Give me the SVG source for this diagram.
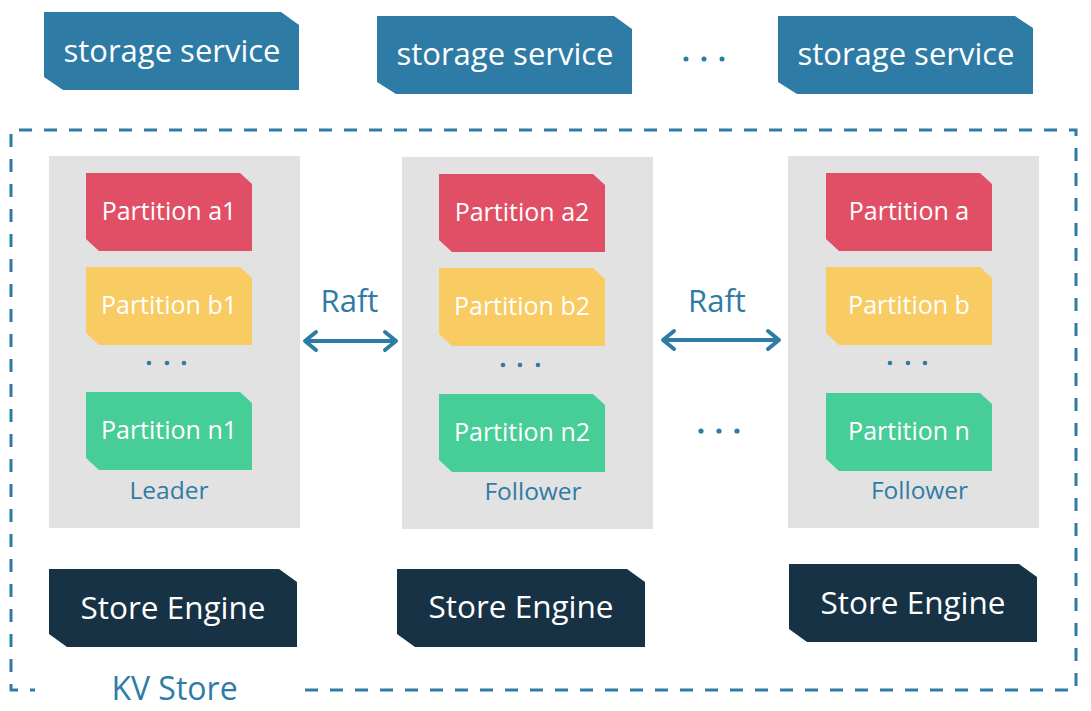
<svg xmlns="http://www.w3.org/2000/svg" width="1091" height="711" viewBox="0 0 1091 711">
<style>
text{font-family:"Open Sans","DejaVu Sans",sans-serif;text-anchor:middle}
.svc{fill:#2e7ba6}
.pa{fill:#e04f65}
.pb{fill:#f8cb63}
.pn{fill:#47cd98}
.se{fill:#163244}
.panel{fill:#e2e2e2}
.wt{fill:#ffffff}
.t-svc{font-size:31px}
.t-part{font-size:25px}
.t-se{font-size:31.5px}
.t-role{font-size:24.5px;fill:#2e7ca6}
.t-raft{font-size:31px;fill:#2e7ca6}
.t-kv{font-size:32px;fill:#2e7ca6}
.dot{fill:#2e7ca6}
.arrow{stroke:#2e7ca6;stroke-width:4;fill:none}
.dash{stroke:#2e7ca6;stroke-width:3;fill:none;stroke-dasharray:13 12}
</style>
<defs>
<path id="partShape" d="M0,0 H154 L166,11 V78 H13 L0,66 Z"/>
<path id="seShape" d="M0,0 H230 L248,13 V78 H18 L0,65 Z"/>
<marker id="chev" viewBox="-14 -12 18 24" markerWidth="18" markerHeight="24" markerUnits="userSpaceOnUse" refX="0" refY="0" orient="auto-start-reverse">
<path d="M-11,-9 L0,0 L-11,9" stroke="#2e7ca6" stroke-width="4" fill="none" stroke-linecap="round" stroke-linejoin="round"/>
</marker>
</defs>

<g id="kv-store">
<path class="dash" d="M305,690 H1076 V130 H11 V690 H35"/>
<text class="t-kv" x="174.5" y="700">KV Store</text>
</g>

<g id="storage-service-1">
<path class="svc" d="M44,12 H281 L299,25 V90 H63 L44,77 Z"/>
<text class="t-svc wt" x="172" y="62">storage service</text>
</g>
<g id="storage-service-2">
<path class="svc" d="M377,16 H614 L632,29 V94 H396 L377,82 Z"/>
<text class="t-svc wt" x="505" y="65">storage service</text>
</g>
<g id="storage-ellipsis">
<circle class="dot" cx="686" cy="59" r="2.5"/>
<circle class="dot" cx="704" cy="59" r="2.5"/>
<circle class="dot" cx="722" cy="59" r="2.5"/>
</g>
<g id="storage-service-3">
<path class="svc" d="M778,16 H1015 L1033,28 V94 H797 L778,82 Z"/>
<text class="t-svc wt" x="906" y="65">storage service</text>
</g>

<g id="node-leader">
<rect class="panel" x="49" y="156" width="251" height="372"/>
<g id="partition-a1" transform="translate(86,173)">
<use href="#partShape" class="pa"/>
<text class="t-part wt" x="83" y="47">Partition a1</text>
</g>
<g id="partition-b1" transform="translate(86,267)">
<use href="#partShape" class="pb"/>
<text class="t-part wt" x="83" y="47">Partition b1</text>
</g>
<circle class="dot" cx="149" cy="363" r="2.3"/>
<circle class="dot" cx="167" cy="363" r="2.3"/>
<circle class="dot" cx="184" cy="363" r="2.3"/>
<g id="partition-n1" transform="translate(86,392)">
<use href="#partShape" class="pn"/>
<text class="t-part wt" x="83" y="47">Partition n1</text>
</g>
<text class="t-role" x="169" y="499">Leader</text>
</g>

<g id="node-follower-2">
<rect class="panel" x="402" y="157" width="251" height="372"/>
<g id="partition-a2" transform="translate(439,174)">
<use href="#partShape" class="pa"/>
<text class="t-part wt" x="83" y="47">Partition a2</text>
</g>
<g id="partition-b2" transform="translate(439,268)">
<use href="#partShape" class="pb"/>
<text class="t-part wt" x="83" y="47">Partition b2</text>
</g>
<circle class="dot" cx="503" cy="365" r="2.3"/>
<circle class="dot" cx="520" cy="365" r="2.3"/>
<circle class="dot" cx="538" cy="365" r="2.3"/>
<g id="partition-n2" transform="translate(439,394)">
<use href="#partShape" class="pn"/>
<text class="t-part wt" x="83" y="47">Partition n2</text>
</g>
<text class="t-role" x="533" y="500">Follower</text>
</g>

<g id="node-ellipsis">
<circle class="dot" cx="701" cy="431" r="2.6"/>
<circle class="dot" cx="719" cy="431" r="2.6"/>
<circle class="dot" cx="737" cy="431" r="2.6"/>
</g>

<g id="node-follower-3">
<rect class="panel" x="788" y="156" width="251" height="372"/>
<g id="partition-a" transform="translate(826,173)">
<use href="#partShape" class="pa"/>
<text class="t-part wt" x="83" y="47">Partition a</text>
</g>
<g id="partition-b" transform="translate(826,267)">
<use href="#partShape" class="pb"/>
<text class="t-part wt" x="83" y="47">Partition b</text>
</g>
<circle class="dot" cx="890" cy="363" r="2.3"/>
<circle class="dot" cx="908" cy="363" r="2.3"/>
<circle class="dot" cx="925" cy="363" r="2.3"/>
<g id="partition-n" transform="translate(826,393)">
<use href="#partShape" class="pn"/>
<text class="t-part wt" x="83" y="47">Partition n</text>
</g>
<text class="t-role" x="919.5" y="499">Follower</text>
</g>

<g id="store-engine-1" transform="translate(49,569)">
<use href="#seShape" class="se"/>
<text class="t-se wt" x="124" y="50">Store Engine</text>
</g>
<g id="store-engine-2" transform="translate(397,569)">
<use href="#seShape" class="se"/>
<text class="t-se wt" x="124" y="49">Store Engine</text>
</g>
<g id="store-engine-3" transform="translate(789,564)">
<use href="#seShape" class="se"/>
<text class="t-se wt" x="124" y="50">Store Engine</text>
</g>

<g id="connectors">
<line class="arrow" x1="305" y1="341" x2="396" y2="341" marker-start="url(#chev)" marker-end="url(#chev)"/>
<text class="t-raft" x="349.5" y="312">Raft</text>
<line class="arrow" x1="663" y1="340" x2="779" y2="340" marker-start="url(#chev)" marker-end="url(#chev)"/>
<text class="t-raft" x="717" y="312">Raft</text>
</g>
</svg>
